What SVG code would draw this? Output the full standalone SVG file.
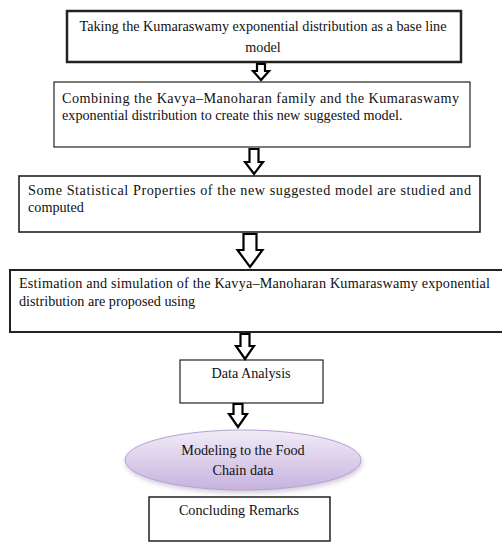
<svg xmlns="http://www.w3.org/2000/svg" width="502" height="550" viewBox="0 0 502 550">
<style>
text{font-family:"Liberation Serif","Times New Roman",serif;font-size:14.2px;fill:#111}
.box{fill:#fff;stroke:#222}
.arr{fill:#fff;stroke:#000;stroke-width:2.2;stroke-linejoin:miter}
</style>
<defs>
<linearGradient id="eg" x1="0" y1="0" x2="0" y2="1">
<stop offset="0" stop-color="#f1ecf7"/>
<stop offset="1" stop-color="#c7b3df"/>
</linearGradient>
<filter id="sh" x="-10%" y="-20%" width="120%" height="150%">
<feGaussianBlur stdDeviation="2.5"/>
</filter>
</defs>
<rect width="502" height="550" fill="#fff"/>
<g id="n1">
<rect class="box" x="67" y="11" width="394" height="51" stroke-width="2.5"/>
<text x="263" y="31" text-anchor="middle">Taking the Kumaraswamy exponential distribution as a base line</text>
<text x="263" y="52" text-anchor="middle">model</text>
</g>
<g id="n2">
<rect class="box" x="54" y="82" width="416" height="65" stroke-width="1.2" stroke="#555"/>
<text x="62" y="103" textLength="397" lengthAdjust="spacing">Combining the Kavya–Manoharan family and the Kumaraswamy</text>
<text x="62" y="120">exponential distribution to create this new suggested model.</text>
</g>
<g id="n3">
<rect class="box" x="19" y="176" width="461" height="56" stroke-width="1.6"/>
<text x="28" y="195" textLength="443" lengthAdjust="spacing">Some Statistical Properties of the new suggested model are studied and</text>
<text x="28" y="212">computed</text>
</g>
<g id="n4">
<rect class="box" x="10" y="270" width="500" height="62" stroke-width="2"/>
<text x="19" y="288" textLength="471" lengthAdjust="spacing">Estimation and simulation of the Kavya–Manoharan Kumaraswamy exponential</text>
<text x="19" y="306">distribution are proposed using</text>
</g>
<g id="n5">
<rect class="box" x="180" y="360" width="143" height="43" stroke-width="1.2" stroke="#444"/>
<text x="251" y="378" text-anchor="middle">Data Analysis</text>
</g>
<g id="n6">
<ellipse cx="244" cy="463" rx="118" ry="30" fill="#9a8aaa" opacity="0.45" filter="url(#sh)"/>
<ellipse cx="243" cy="460" rx="118" ry="30" fill="url(#eg)" stroke="#b7a2d2" stroke-width="1"/>
<text x="243" y="455" text-anchor="middle">Modeling to the Food</text>
<text x="243" y="475" text-anchor="middle">Chain data</text>
</g>
<g id="n7">
<rect class="box" x="149" y="497" width="181" height="44" stroke-width="1.5"/>
<text x="239" y="515" text-anchor="middle">Concluding Remarks</text>
</g>
<g id="connectors">
<path class="arr" d="M257,64 H265 V71 H269 L261,80 L253,71 H257 Z"/>
<path class="arr" d="M249.5,149 H258.5 V162 H263 L254,174 L245,162 H249.5 Z"/>
<path class="arr" d="M243.5,234 H256.5 V250 H262.5 L250,267 L237.5,250 H243.5 Z"/>
<path class="arr" d="M240.5,334 H249.5 V346 H254 L245,359 L236,346 H240.5 Z"/>
<path class="arr" d="M233.5,404 H242.5 V414 H247 L238,427 L229,414 H233.5 Z"/>
</g>
</svg>
